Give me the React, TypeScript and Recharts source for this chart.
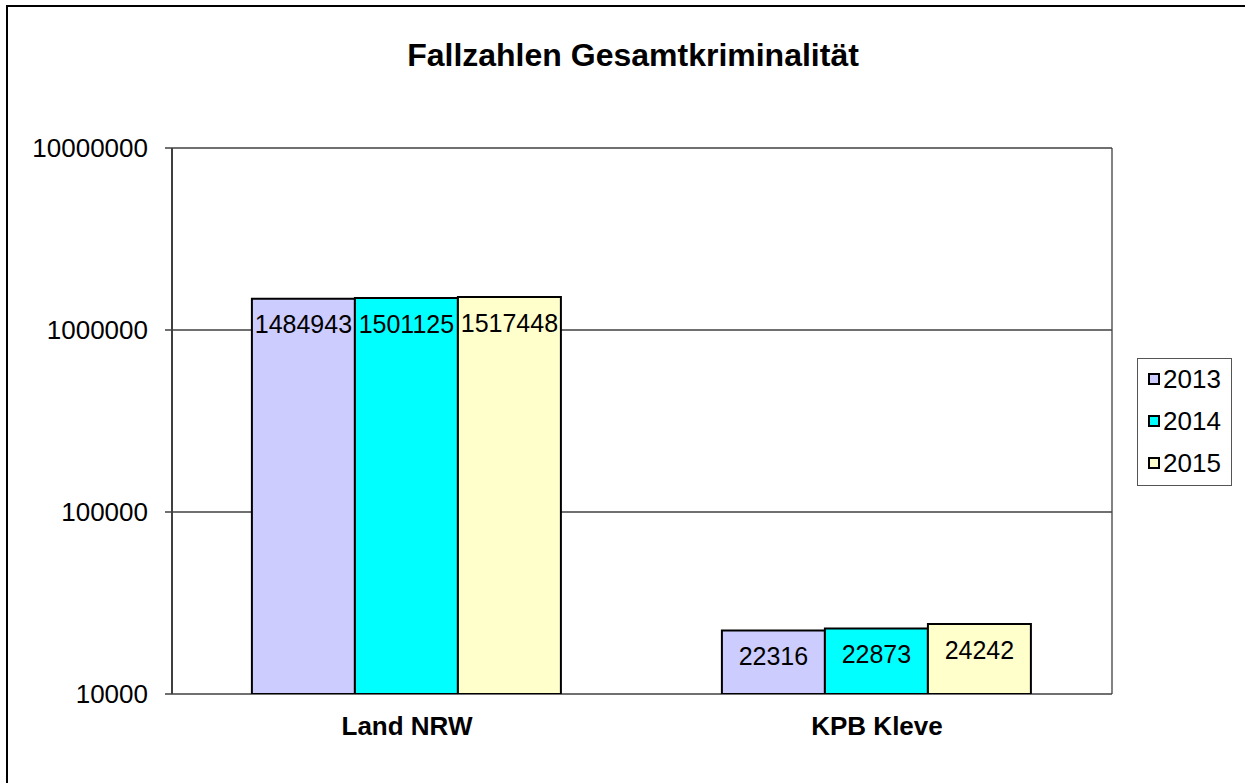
import React from "react";
import {
  BarChart,
  Bar,
  XAxis,
  YAxis,
  CartesianGrid,
  LabelList,
} from "recharts";

const categories = ["Land NRW", "KPB Kleve"];
const years = ["2013", "2014", "2015"];
const values2013 = [1484943, 22316];
const values2014 = [1501125, 22873];
const values2015 = [1517448, 24242];
const yTicks = [10000, 100000, 1000000, 10000000];
const colors = ["#CCCCFF", "#00FFFF", "#FFFFCC"];
const title = "Fallzahlen Gesamtkriminalität";

const seriesValues = [values2013, values2014, values2015];
const data = categories.map((c, i) => {
  const row: Record<string, string | number> = { name: c, idx: i + 0.5 };
  years.forEach((y, k) => {
    row[y] = seriesValues[k][i];
  });
  return row;
});

const FONT = "'Liberation Sans', Arial, sans-serif";
const AXIS = "#404040";

export default function App() {
  return (
    <div
      style={{
        position: "absolute",
        left: 0,
        top: 0,
        width: 1245,
        height: 783,
        background: "#fff",
        overflow: "hidden",
        fontFamily: FONT,
      }}
    >
      <div
        style={{
          position: "absolute",
          left: 6,
          top: 5,
          width: 1300,
          height: 900,
          borderLeft: "2px solid #000",
          borderTop: "2px solid #000",
        }}
      />
      <div
        style={{
          position: "absolute",
          left: 0,
          top: 36,
          width: 1266,
          textAlign: "center",
          fontWeight: "bold",
          fontSize: 32,
          color: "#000",
          lineHeight: "38px",
        }}
      >
        {title}
      </div>
      <div style={{ position: "absolute", left: 0, top: 0 }}>
        <BarChart
          width={1245}
          height={783}
          data={data}
          margin={{ top: 148, right: 133, bottom: 29, left: 0 }}
          barCategoryGap="17%"
          barGap={0}
        >
          <CartesianGrid
            stroke={AXIS}
            strokeWidth={1.3}
            horizontal={true}
            vertical={true}
            verticalCoordinatesGenerator={({ offset }: any) => [
              offset.left + offset.width,
            ]}
          />
          <XAxis
            xAxisId="edges"
            type="number"
            dataKey="idx"
            domain={[0, 2]}
            ticks={[0, 1, 2]}
            allowDataOverflow
            height={0}
            tick={false}
            tickSize={8}
            tickLine={{ stroke: AXIS, strokeWidth: 2 }}
            axisLine={{ stroke: AXIS, strokeWidth: 2 }}
          />
          <XAxis
            dataKey="name"
            height={60}
            tickSize={0}
            tickMargin={23}
            tickLine={false}
            axisLine={false}
            tick={{
              fill: "#000",
              fontSize: 26,
              fontWeight: "bold",
              fontFamily: FONT,
            }}
          />
          <YAxis
            scale="log"
            domain={[10000, 10000000]}
            ticks={yTicks}
            allowDataOverflow
            width={172}
            tickSize={7}
            tickMargin={17}
            interval={0}
            tickLine={{ stroke: AXIS, strokeWidth: 1.5 }}
            axisLine={{ stroke: AXIS, strokeWidth: 2 }}
            tick={{ fill: "#000", fontSize: 26, fontFamily: FONT }}
          />
          {years.map((y, k) => (
            <Bar
              key={y}
              dataKey={y}
              fill={colors[k]}
              stroke="#000"
              strokeWidth={2}
              isAnimationActive={false}
            >
              <LabelList
                dataKey={y}
                position="insideTop"
                offset={17}
                fill="#000"
                fontSize={25}
                fontFamily={FONT}
              />
            </Bar>
          ))}
        </BarChart>
      </div>
      <div
        style={{
          position: "absolute",
          left: 1137,
          top: 358,
          width: 95,
          height: 128,
          border: "1.5px solid #555",
          boxSizing: "border-box",
        }}
      >
        {years.map((y, k) => (
          <div
            key={y}
            style={{
              position: "absolute",
              left: 10,
              top: 5 + k * 42,
              height: 30,
              display: "flex",
              alignItems: "center",
              fontSize: 26,
              color: "#000",
            }}
          >
            <span
              style={{
                display: "inline-block",
                width: 8,
                height: 8,
                border: "2px solid #000",
                background: colors[k],
                marginRight: 3,
              }}
            />
            <span>{y}</span>
          </div>
        ))}
      </div>
    </div>
  );
}
